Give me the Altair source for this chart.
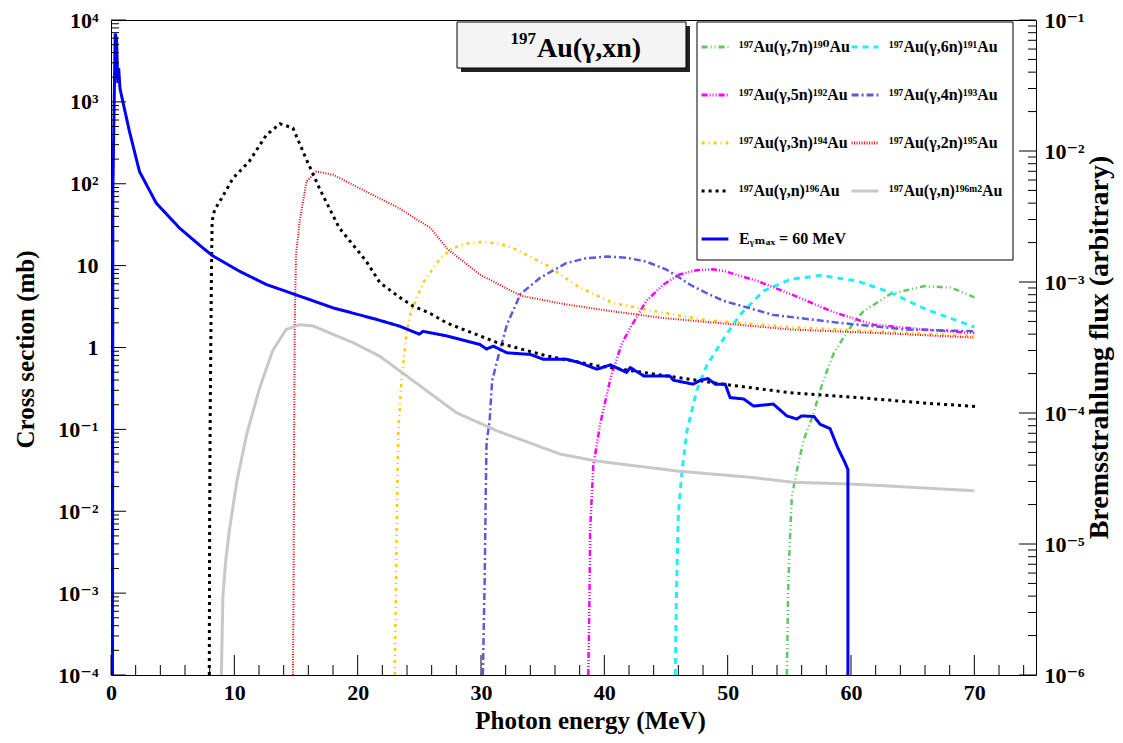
import json
import altair as alt
import pandas as pd

# ---------------- data ----------------
series_names = [
    "¹⁹⁷Au(γ,7n)¹⁹⁰Au", "¹⁹⁷Au(γ,6n)¹⁹¹Au",
    "¹⁹⁷Au(γ,5n)¹⁹²Au", "¹⁹⁷Au(γ,4n)¹⁹³Au",
    "¹⁹⁷Au(γ,3n)¹⁹⁴Au", "¹⁹⁷Au(γ,2n)¹⁹⁵Au",
    "¹⁹⁷Au(γ,n)¹⁹⁶Au", "¹⁹⁷Au(γ,n)¹⁹⁶ᵐ²Au",
    "Eᵧₘₐₓ = 60 MeV",
]

e_7n = [54.8, 54.9, 55.0, 55.2, 55.6, 56.15, 56.95, 57.5, 58.05, 58.6, 59.4, 60.2, 61.0, 63.2, 65.9, 68.1, 70.0]
xs_7n = [1e-4, 1e-3, 0.003, 0.015, 0.031, 0.073, 0.155, 0.3, 0.52, 0.85, 1.32, 2.0, 2.76, 4.5, 5.6, 5.4, 4.1]

e_6n = [45.75, 45.85, 46.0, 46.3, 46.7, 47.1, 47.5, 48.3, 49.7, 51.0, 52.9, 55.1, 57.5, 60.5, 63.2, 65.9, 70.0]
xs_6n = [1e-4, 1e-3, 0.0093, 0.031, 0.096, 0.17, 0.3, 0.6, 1.3, 2.5, 4.9, 6.8, 7.6, 6.5, 4.7, 3.0, 1.78]

e_5n = [38.7, 38.8, 38.85, 39.1, 39.65, 40.5, 41.4, 42.1, 43.4, 44.8, 46.1, 47.5, 48.8, 49.7, 52.4, 55.1, 58.6, 61.8, 65.9, 70.0]
xs_5n = [1e-4, 1e-3, 0.006, 0.035, 0.114, 0.42, 1.1, 1.74, 3.7, 5.9, 7.8, 8.8, 9.0, 8.6, 6.5, 4.5, 2.7, 1.9, 1.66, 1.5]

e_4n = [30.15, 30.3, 30.38, 30.45, 30.7, 30.9, 31.3, 32.1, 33.2, 34.8, 36.9, 38.5, 40.2, 41.8, 43.4, 45.0, 46.1, 47.0, 48.3, 49.7, 53.7, 59.1, 64.5, 70.0]
xs_4n = [1e-4, 0.0015, 0.015, 0.07, 0.126, 0.39, 0.68, 1.9, 4.5, 7.1, 10.7, 12.3, 12.9, 12.5, 11.2, 9.0, 7.1, 5.8, 4.6, 3.7, 2.5, 2.0, 1.66, 1.58]

e_3n = [23.0, 23.1, 23.2, 23.3, 23.55, 23.96, 24.3, 24.8, 25.4, 26.7, 27.7, 29.0, 30.2, 31.5, 32.6, 35.3, 38.0, 40.7, 43.4, 48.3, 55.0, 63.0, 70.0]
xs_3n = [1e-4, 1e-3, 0.015, 0.095, 0.39, 1.5, 2.6, 4.1, 6.5, 12.3, 16.4, 18.8, 19.5, 18.5, 16.4, 10.2, 5.4, 3.5, 2.9, 2.15, 1.78, 1.55, 1.38]

e_2n = [14.75, 14.8, 14.85, 14.9, 15.0, 15.3, 15.85, 16.65, 18.0, 20.7, 23.4, 25.0, 25.9, 27.2, 29.9, 33.2, 36.7, 40.7, 44.8, 48.3, 55.1, 63.2, 70.0]
xs_2n = [1e-4, 1e-3, 0.1, 2.0, 13.5, 35, 107, 141, 129, 80, 50, 35, 29, 16.4, 7.8, 4.3, 3.4, 2.76, 2.29, 2.05, 1.66, 1.48, 1.32]

e_1n = [7.97, 8.0, 8.05, 8.1, 8.15, 8.2, 8.4, 8.8, 9.9, 11.2, 12.6, 13.7, 14.75, 15.8, 16.9, 18.5, 20.7, 21.8, 23.4, 24.5, 25.9, 27.2, 31.3, 35.3, 39.4, 43.4, 49.7, 55.1, 60.5, 65.9, 70.1]
xs_1n = [1e-4, 0.01, 0.2, 1.5, 10, 35, 48, 60, 117, 187, 395, 540, 480, 205, 88, 29, 11.3, 6.2, 4.1, 3.2, 2.6, 2.0, 1.15, 0.79, 0.60, 0.49, 0.355, 0.28, 0.245, 0.21, 0.19]

e_m2 = [8.95, 9.0, 9.07, 9.3, 9.6, 10.2, 11.0, 12.05, 13.1, 14.2, 15.3, 16.4, 18.0, 19.6, 21.8, 23.4, 25.3, 28.0, 31.3, 36.4, 39.4, 45.9, 51.8, 55.3, 59.9, 62.4, 66.0, 70.0]
xs_m2 = [1e-4, 2.5e-4, 9e-4, 2.5e-3, 5.9e-3, 0.023, 0.087, 0.32, 0.91, 1.66, 1.9, 1.83, 1.45, 1.15, 0.78, 0.52, 0.32, 0.16, 0.096, 0.05, 0.041, 0.031, 0.026, 0.0226, 0.0215, 0.0206, 0.0192, 0.0178]

# bremsstrahlung flux (right axis, arbitrary units)
e_flux = [0.12, 0.15, 0.34, 0.45, 0.55, 0.62, 0.73, 0.96, 1.5, 2.31, 3.67, 5.56, 7.45, 8.26, 10.4, 12.6, 15.3, 18.0,
          21.5, 23.4, 25.0, 25.3, 27.2, 29.9, 30.45, 31.0, 32.1, 34.0, 35.05, 36.95, 38.0, 39.4, 40.5, 41.8, 42.1,
          43.2, 45.3, 45.6, 47.2, 47.8, 48.4, 49.0, 49.8, 50.2, 51.3, 52.1, 53.7, 54.8, 55.6, 56.0, 57.0, 57.5,
          58.3, 58.9, 59.5, 59.75, 59.75]
flux = [1e-6, 0.0049, 0.0787, 0.072, 0.033, 0.043, 0.030, 0.0238, 0.01406, 0.00697, 0.0040, 0.00258, 0.00182,
        0.00158, 0.00121, 0.000957, 0.00078, 0.000635, 0.000519, 0.00046, 0.00040, 0.00042, 0.000388, 0.000334,
        0.000308, 0.000324, 0.000288, 0.00028, 0.000257, 0.000257, 0.000242, 0.000216, 0.000233, 0.000204,
        0.000222, 0.000192, 0.000192, 0.000178, 0.000166, 0.000178, 0.000183, 0.000166, 0.000166, 0.000131,
        0.000128, 0.000113, 0.000117, 0.000095, 0.00009, 0.000095, 0.000094, 0.000082, 0.000076, 0.000055,
        0.000042, 0.000037, 1e-6]

x_tick_labels = [0, 10, 20, 30, 40, 50, 60, 70]
left_tick_labels = ["10⁻⁴", "10⁻³", "10⁻²", "10⁻¹", "1", "10", "10²", "10³", "10⁴"]
right_tick_labels = ["10⁻⁶", "10⁻⁵", "10⁻⁴", "10⁻³", "10⁻²", "10⁻¹"]

# ---------------- styles ----------------
colors = ["#5fc85f", "#1ff0f0", "#ff00ff", "#5a5ae0", "#ffc800", "#ff0000", "#000000", "#c8c8c8", "#0000ff"]
dashes = [[6, 3, 1, 3, 1, 3], [6, 5], [6, 2, 1, 2, 1, 2, 1, 2], [7, 3, 2, 3], [3, 4, 1, 4],
          [1, 1.5], [3, 4], [1, 0], [1, 0]]
widths = [2.5, 3, 2.5, 2.5, 2.5, 2, 3, 3, 3]
# legend is laid out column by column -> order so rows read like the original
legend_order = [0, 2, 4, 6, 8, 1, 3, 5, 7]

xs_sets = [(e_7n, xs_7n), (e_6n, xs_6n), (e_5n, xs_5n), (e_4n, xs_4n), (e_3n, xs_3n),
           (e_2n, xs_2n), (e_1n, xs_1n), (e_m2, xs_m2)]

rows = []
for i, (ee, vv) in enumerate(xs_sets):
    for j, (e, v) in enumerate(zip(ee, vv)):
        rows.append({"E": e, "sigma": v, "series": series_names[i], "idx": j, "sw": widths[i]})
df_xs = pd.DataFrame(rows)
df_flux = pd.DataFrame({"E": e_flux, "flux": flux, "series": series_names[8],
                        "idx": list(range(len(e_flux))), "sw": widths[8]})

W, H = 925, 655
FONT = "Liberation Serif, DejaVu Serif, serif"

left_major = [10.0 ** d for d in range(-4, 5)]
left_minor = [k * 10.0 ** d for d in range(-4, 4) for k in range(2, 10)]
right_major = [10.0 ** d for d in range(-6, 0)]
right_minor = [k * 10.0 ** d for d in range(-6, -1) for k in range(2, 10)]
x_major = x_tick_labels
x_minor = [v for v in range(0, 75, 2) if v % 10 != 0]

def xsc():
    return alt.Scale(domain=[0, 75], nice=False, zero=False)

def ysc():
    return alt.Scale(type="log", domain=[1e-4, 1e4], nice=False)

def y2sc():
    return alt.Scale(type="log", domain=[1e-6, 1e-1], nice=False)

color_scale = alt.Scale(domain=[series_names[k] for k in legend_order], range=[colors[k] for k in legend_order])
dash_scale = alt.Scale(domain=[series_names[k] for k in legend_order], range=[dashes[k] for k in legend_order])

legend = alt.Legend(orient="none", legendX=589, legendY=12, columns=2, title=None,
                    symbolType="stroke", symbolStrokeWidth=3, symbolSize=720,
                    labelFont=FONT, labelFontWeight="bold", labelFontSize=16, labelColor="black",
                    labelOffset=9, rowPadding=25, columnPadding=-10, labelLimit=300,
                    padding=0)

left_expr = "%s[round(log(datum.value)/LN10)+4]" % json.dumps(left_tick_labels, ensure_ascii=False)
right_expr = "%s[round(log(datum.value)/LN10)+6]" % json.dumps(right_tick_labels, ensure_ascii=False)

x_axis = alt.Axis(values=x_tick_labels, ticks=False, domain=False, grid=False, labelFlush=False,
                  labelFont=FONT, labelFontWeight="bold", labelFontSize=22, labelColor="black",
                  labelPadding=7, labelOverlap=False,
                  title="Photon energy (MeV)", titleFont=FONT, titleFontWeight="bold", titleFontSize=25,
                  titleColor="black", titleX=479, titleY=45, titleBaseline="middle", titleAlign="center")
y_axis = alt.Axis(orient="left", values=left_major, labelExpr=left_expr, ticks=False, domain=False,
                  grid=False, labelFont=FONT, labelFontWeight="bold", labelFontSize=22,
                  labelColor="black", labelPadding=13, labelOverlap=False, labelFlush=False,
                  title="Cross section (mb)", titleFont=FONT, titleFontWeight="bold", titleFontSize=25,
                  titleColor="black", titleX=-86, titleY=329, titleAngle=270,
                  titleBaseline="middle", titleAlign="center")
y2_axis = alt.Axis(orient="right", values=right_major, labelExpr=right_expr, ticks=False, domain=False,
                   grid=False, labelFont=FONT, labelFontWeight="bold", labelFontSize=22,
                   labelColor="black", labelPadding=8, labelOverlap=False, labelFlush=False,
                   title="Bremsstrahlung flux (arbitrary)", titleFont=FONT, titleFontWeight="bold",
                   titleFontSize=28, titleColor="black", titleX=63, titleY=327, titleAngle=270,
                   titleBaseline="middle", titleAlign="center")

X = alt.X("E:Q", scale=xsc(), axis=x_axis)

xs_lines = alt.Chart(df_xs).mark_line(clip=True, strokeCap="butt").encode(
    x=X,
    y=alt.Y("sigma:Q", scale=ysc(), axis=y_axis),
    color=alt.Color("series:N", scale=color_scale, legend=legend),
    strokeDash=alt.StrokeDash("series:N", scale=dash_scale, legend=legend),
    strokeWidth=alt.StrokeWidth("sw:Q", scale=None),
    order=alt.Order("idx:Q"),
)

flux_line = alt.Chart(df_flux).mark_line(clip=True).encode(
    x=X,
    y=alt.Y("flux:Q", scale=y2sc(), axis=y2_axis),
    color=alt.Color("series:N", scale=color_scale, legend=legend),
    strokeDash=alt.StrokeDash("series:N", scale=dash_scale, legend=legend),
    strokeWidth=alt.StrokeWidth("sw:Q", scale=None),
    order=alt.Order("idx:Q"),
)

def y_rules(values, scale, a, b):
    return alt.Chart(pd.DataFrame({"v": values})).mark_rule(color="black", strokeWidth=1).encode(
        y=alt.Y("v:Q", scale=scale, axis=None), x=alt.value(a), x2=alt.value(b))

def x_rules(values, a, b):
    return alt.Chart(pd.DataFrame({"E": values})).mark_rule(color="black", strokeWidth=1).encode(
        x=X, y=alt.value(a), y2=alt.value(b))

one = pd.DataFrame({"a": [0]})
title_shadow = alt.Chart(one).mark_rect(fill="#222222").encode(
    x=alt.value(350), x2=alt.value(579), y=alt.value(6), y2=alt.value(52))
title_box = alt.Chart(one).mark_rect(fill="#f4f4f4", stroke="black", strokeWidth=1).encode(
    x=alt.value(346), x2=alt.value(575), y=alt.value(2), y2=alt.value(48))
title_sup = alt.Chart(one).mark_text(text="197", font=FONT, fontWeight="bold", fontSize=17,
                                     align="right", baseline="alphabetic", color="black").encode(
    x=alt.value(425), y=alt.value(24))
title_main = alt.Chart(one).mark_text(text="Au(γ,xn)", font=FONT, fontWeight="bold", fontSize=28,
                                      align="left", baseline="alphabetic", color="black").encode(
    x=alt.value(426), y=alt.value(37))
legend_box = alt.Chart(one).mark_rect(fill="white", stroke="black", strokeWidth=1).encode(
    x=alt.value(586), x2=alt.value(902), y=alt.value(2), y2=alt.value(240))

chart = alt.layer(
    xs_lines,
    flux_line,
    y_rules(left_major, ysc(), 0, 15),
    y_rules(left_minor, ysc(), 0, 8),
    y_rules(right_major, y2sc(), W, W - 17),
    y_rules(right_minor, y2sc(), W, W - 8),
    x_rules(x_major, H, H - 20),
    x_rules(x_minor, H, H - 10),
    legend_box, title_shadow, title_box, title_sup, title_main,
).resolve_scale(y="independent").properties(
    width=W, height=H,
    autosize=alt.AutoSizeParams(type="none"),
    padding={"left": 103, "top": 12, "right": 79, "bottom": 60},
    background="white",
).configure_view(stroke="black", strokeWidth=1)

chart.save("out.html", embed_options={"renderer": "svg", "actions": False})
